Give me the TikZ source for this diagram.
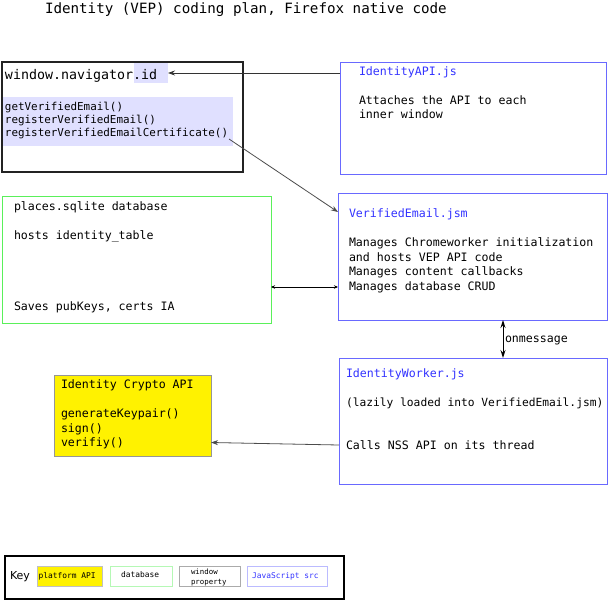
\documentclass[tikz,border=0pt]{standalone}
\usepackage{fontspec}
\setmainfont{DejaVu Sans}
\newfontfamily\monof{DejaVu Sans Mono}
\usetikzlibrary{arrows.meta}
\definecolor{jsblue}{RGB}{50,50,255}
\definecolor{jsborder}{RGB}{105,105,255}
\definecolor{dbgreen}{RGB}{90,240,90}
\definecolor{hlcol}{RGB}{224,224,255}
\definecolor{winborder}{RGB}{35,35,35}
\definecolor{grayborder}{RGB}{150,150,150}
\begin{document}
\begin{tikzpicture}[x=1pt,y=-1pt,
  boxbase/.style={inner sep=0pt,outer sep=0pt,anchor=north west},
  winbox/.style={boxbase,draw=winborder,line width=1.3pt},
  jsbox/.style={boxbase,draw=jsborder,line width=1pt},
  dbbox/.style={boxbase,draw=dbgreen,line width=1pt},
  apibox/.style={boxbase,draw=grayborder,fill=yellow,line width=0.8pt},
  hlbox/.style={boxbase,fill=hlcol},
  txt/.style={anchor=base west,inner sep=0pt,outer sep=0pt,font=\monof\fontsize{11.6}{13}\selectfont},
  jstxt/.style={txt,text=jsblue},
  fntxt/.style={txt,font=\monof\fontsize{10.9}{13}\selectfont},
  idtxt/.style={txt,font=\monof\fontsize{13.3}{15}\selectfont},
  titletxt/.style={txt,font=\monof\fontsize{14.2}{16}\selectfont},
  keytxt/.style={txt,font=\monof\fontsize{7.9}{9}\selectfont},
  arr/.style={-{Stealth[length=7pt,width=5pt]},line width=0.8pt,draw=black!80},
  darr/.style={{Stealth[length=4pt,width=3.5pt]}-{Stealth[length=4pt,width=3.5pt]},line width=0.8pt},
  barr/.style={{Stealth[length=8pt,width=5pt]}-{Stealth[length=8pt,width=5pt]},line width=1pt}
]
\useasboundingbox (0,0) rectangle (608,600);

% title
\node[titletxt] (title) at (45,13) {Identity (VEP) coding plan, Firefox native code};

% window.navigator.id box
\node[hlbox,minimum width=34pt,minimum height=20pt] (idhl) at (134,63) {};
\node[hlbox,minimum width=231pt,minimum height=49pt] (fnhl) at (2,97) {};
\node[winbox,minimum width=241pt,minimum height=110pt] (win) at (2,62) {};
\node[idtxt] (wintitle) at (5,79) {window.navigator.id};
\node[fntxt] (fn1) at (5,110) {getVerifiedEmail()};
\node[fntxt] (fn2) at (5,123) {registerVerifiedEmail()};
\node[fntxt] (fn3) at (5,136) {registerVerifiedEmailCertificate()};

% IdentityAPI.js
\node[jsbox,minimum width=266pt,minimum height=112pt] (api) at (340,62) {};
\node[jstxt] (apititle) at (359,75) {IdentityAPI.js};
\node[txt] (api1) at (359,104) {Attaches the API to each};
\node[txt] (api2) at (359,118) {inner window};

% VerifiedEmail.jsm
\node[jsbox,minimum width=269pt,minimum height=127pt] (ve) at (338,193) {};
\node[jstxt] (vetitle) at (349,217) {VerifiedEmail.jsm};
\node[txt] (ve1) at (349,246) {Manages Chromeworker initialization};
\node[txt] (ve2) at (349,261) {and hosts VEP API code};
\node[txt] (ve3) at (349,275) {Manages content callbacks};
\node[txt] (ve4) at (349,290) {Manages database CRUD};

% places.sqlite
\node[dbbox,minimum width=269pt,minimum height=127pt] (db) at (2,196) {};
\node[txt] (db1) at (14,210) {places.sqlite database};
\node[txt] (db2) at (14,239) {hosts identity\_table};
\node[txt] (db3) at (14,310) {Saves pubKeys, certs IA};

% IdentityWorker.js
\node[jsbox,minimum width=268pt,minimum height=126pt] (wk) at (339,358) {};
\node[jstxt] (wktitle) at (346,377) {IdentityWorker.js};
\node[txt,font=\monof\fontsize{11.25}{13}\selectfont] (wk1) at (346,406) {(lazily loaded into VerifiedEmail.jsm)};
\node[txt] (wk2) at (346,449) {Calls NSS API on its thread};

% Identity Crypto API
\node[apibox,minimum width=157pt,minimum height=81pt] (cr) at (54,375) {};
\node[txt] (cr0) at (61,388) {Identity Crypto API};
\node[txt] (cr1) at (61,417) {generateKeypair()};
\node[txt] (cr2) at (61,432) {sign()};
\node[txt] (cr3) at (61,446) {verifiy()};

% connectors
\coordinate (apiout) at (api.west |- idhl.east);
\coordinate (idin) at (idhl.east);
\draw[arr] (apiout) -- (idin);

\coordinate (fnout) at (229,139);
\coordinate (vein) at (338,212);
\draw[arr,draw=black!70] (fnout) -- (vein);

\coordinate (dbport) at (271,287);
\coordinate (veport) at (338,287);
\draw[darr] (dbport) -- (veport);

\coordinate (vebot) at (503,320);
\coordinate (wktop) at (503,358);
\draw[barr] (vebot) -- (wktop);
\node[txt] (onmsg) at (505,342) {onmessage};

\coordinate (wkout) at (339,445);
\coordinate (crin) at (211,442.5);
\draw[arr,draw=black!70] (wkout) -- (crin);

% key
\node[boxbase,draw=black,line width=1.5pt,minimum width=339pt,minimum height=43pt] (key) at (5,556) {};
\node[txt,font=\fontsize{11}{13}\selectfont] (keylbl) at (10,579) {Key};
\node[boxbase,fill=yellow,draw=grayborder!60,line width=0.5pt,minimum width=65pt,minimum height=20pt] (kapi) at (37,566) {};
\node[keytxt] (kapit) at (38.5,578) {platform API};
\node[boxbase,draw=dbgreen!45,line width=0.7pt,minimum width=62pt,minimum height=20pt] (kdb) at (110,566) {};
\node[keytxt] (kdbt) at (121,577) {database};
\node[boxbase,draw=grayborder!80,line width=0.8pt,minimum width=61pt,minimum height=20pt] (kwin) at (179,566) {};
\node[keytxt,font=\monof\fontsize{7.4}{8}\selectfont] (kwint1) at (191,574) {window};
\node[keytxt,font=\monof\fontsize{7.4}{8}\selectfont] (kwint2) at (191,584) {property};
\node[boxbase,draw=jsborder!45,line width=0.7pt,minimum width=80pt,minimum height=20pt] (kjs) at (247,566) {};
\node[keytxt,text=jsblue] (kjst) at (252,578) {JavaScript src};
\end{tikzpicture}
\end{document}
